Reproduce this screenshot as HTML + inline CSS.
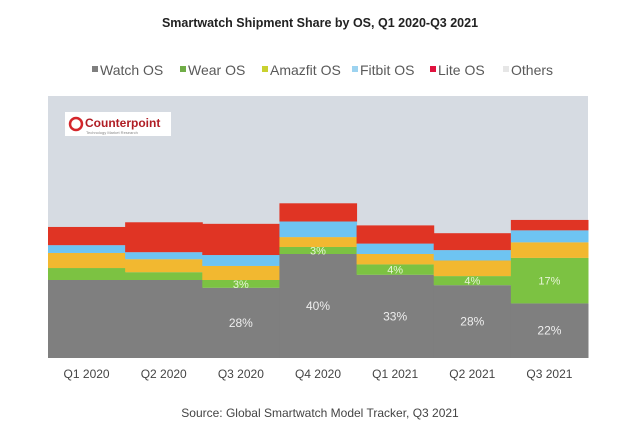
<!DOCTYPE html>
<html><head><meta charset="utf-8"><style>
body{margin:0;background:#fff;width:640px;height:436px;overflow:hidden;font-family:"Liberation Sans",sans-serif}
</style></head><body>
<svg id="c" width="640" height="436" xmlns="http://www.w3.org/2000/svg">
<text x="320" y="27" text-anchor="middle" font-size="12.5" font-weight="bold" fill="#222">Smartwatch Shipment Share by OS, Q1 2020-Q3 2021</text>
<g id="legend"></g>
<rect x="48" y="96" width="540" height="262" fill="#d6dbe2"/>
<g id="bars"></g>
<g id="xl"></g>
<g>
<rect x="65" y="112" width="106" height="24" fill="#fff"/>
<circle cx="76" cy="124" r="6" fill="none" stroke="#d4262b" stroke-width="2.5"/>
<text x="85" y="127" font-size="12" font-weight="bold" fill="#b01d24">Counterpoint</text>
<text x="86" y="134" font-size="4" fill="#888">Technology Market Research</text>
</g>
<text x="320" y="417" text-anchor="middle" font-size="12" fill="#444">Source: Global Smartwatch Model Tracker, Q3 2021</text>
</svg>
<script>
const categories=["Q1 2020","Q2 2020","Q3 2020","Q4 2020","Q1 2021","Q2 2021","Q3 2021"];
const watchOS=[30,30,27,40,32,28,21];
const wearOS=[4.6,3,3,2.7,4,3.5,17.5];
const amazfitOS=[5.8,5,5.4,3.8,4,6,6];
const fitbitOS=[3,2.7,4.2,6,4,4,4.6];
const liteOS=[7,11.5,12,7,7,6.5,4];
const labels=["","","28%","40%","33%","28%","22%"];
const wearLabels=["","","3%","3%","4%","4%","17%"];
const seriesNames=["Watch OS","Wear OS","Amazfit OS","Fitbit OS","Lite OS","Others"];
const colors=["#7f7f7f","#7cc242","#f2b830","#6ec4f2","#e03424","#d6dbe2"];
const legendColors=["#7f7f7f","#70ad47","#c9d130","#9dd3f0","#e0123e","#e6e6e6"];
const NS="http://www.w3.org/2000/svg";
const x0=48,plotW=540,base=358,pxPer=2.6;
const bw=plotW/categories.length;
function xs(i){return x0+i*bw;}
function ys(v){return base-v*pxPer;}
function mk(t,a,p){const e=document.createElementNS(NS,t);for(const k in a)e.setAttribute(k,a[k]);p.appendChild(e);return e;}
const series=[watchOS,wearOS,amazfitOS,fitbitOS,liteOS];
const bars=document.getElementById('bars');
categories.forEach((c,i)=>{
  let cum=0;
  series.forEach((s,j)=>{
    const r=mk('rect',{x:xs(i),y:ys(cum+s[i]),width:bw+0.5,height:s[i]*pxPer,fill:colors[j]},bars);
    
    
    cum+=s[i];
  });
  if(labels[i]){const t=mk('text',{x:xs(i)+bw/2,y:ys(watchOS[i]/2)+4,'text-anchor':'middle','font-size':12,fill:'#eee'},bars);t.textContent=labels[i];
    }
  if(wearLabels[i]){const t=mk('text',{x:xs(i)+bw/2,y:ys(watchOS[i]+wearOS[i]/2)+4,'text-anchor':'middle','font-size':11,fill:'#e8f5d8'},bars);t.textContent=wearLabels[i];
    }
  const t=mk('text',{x:xs(i)+bw/2,y:378,'text-anchor':'middle','font-size':12,fill:'#444'},document.getElementById('xl'));
  t.textContent=c;
  
  
});
const lg=document.getElementById('legend');
const lx=[92,180,262,352,430,503];
seriesNames.forEach((n,j)=>{
  const g=mk('g',{},lg);
  
  
  mk('rect',{x:lx[j],y:66,width:6,height:6,fill:legendColors[j]},g);
  const t=mk('text',{x:lx[j]+8,y:75,'font-size':14,fill:'#595959'},g);t.textContent=n;
});
</script>
</body></html>
